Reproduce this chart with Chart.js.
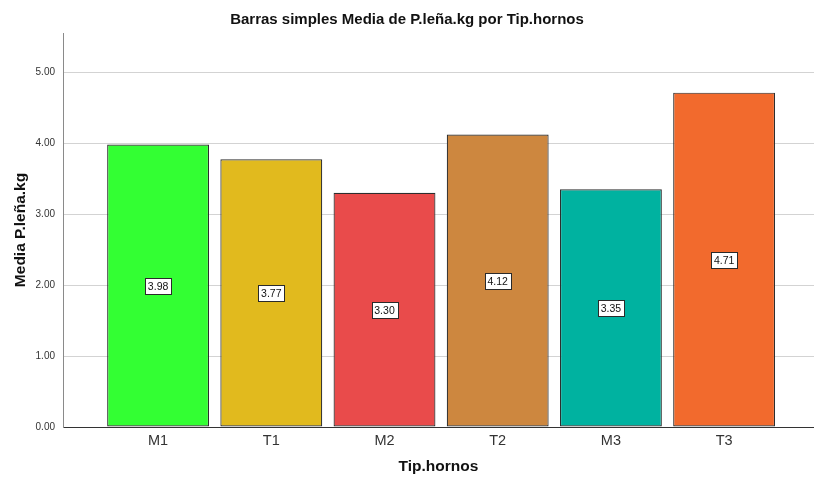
<!DOCTYPE html>
<html>
<head>
<meta charset="utf-8">
<script src="https://cdn.jsdelivr.net/npm/chart.js@4.4.1/dist/chart.umd.min.js"></script>
<style>
  html, body { margin: 0; padding: 0; background: #ffffff; }
  #wrap { width: 814px; height: 481px; }
</style>
</head>
<body>
<div id="wrap"><canvas id="c" width="814" height="481"></canvas></div>
<script>
// Tipos de horno y media de leña (kg) por tipo
const categories = ['M1', 'T1', 'M2', 'T2', 'M3', 'T3'];
const meanValues = [3.98, 3.77, 3.30, 4.12, 3.35, 4.71];
const barColors = ['#33FF33', '#E1BA1E', '#E94B4B', '#CD873F', '#00B2A0', '#F26A2D'];
const yTickValues = [0, 1, 2, 3, 4, 5];

const FONT = "'Liberation Sans', Arial, Helvetica, sans-serif";

// Etiqueta de valor en un recuadro blanco a media altura de cada barra
const valueBoxes = {
  id: 'valueBoxes',
  afterDatasetsDraw(chart) {
    const ctx = chart.ctx;
    const meta = chart.getDatasetMeta(0);
    const yScale = chart.scales.y;
    ctx.save();
    ctx.font = '10.5px ' + FONT;
    ctx.textAlign = 'center';
    ctx.textBaseline = 'middle';
    meta.data.forEach((bar, i) => {
      const v = meanValues[i];
      const text = v.toFixed(2);
      const cx = bar.x;
      const cy = yScale.getPixelForValue(v / 2);
      const w = Math.ceil(ctx.measureText(text).width) + 5;
      const h = 16;
      const x0 = Math.round(cx - w / 2) + 0.5;
      const y0 = Math.round(cy - h / 2) + 0.5;
      ctx.fillStyle = '#ffffff';
      ctx.fillRect(x0, y0, w, h);
      ctx.strokeStyle = '#2a2a2a';
      ctx.lineWidth = 1;
      ctx.strokeRect(x0, y0, w, h);
      ctx.fillStyle = '#111111';
      ctx.fillText(text, cx, cy + 1);
    });
    ctx.restore();
  }
};

const whiteBg = {
  id: 'whiteBg',
  beforeDraw(chart) {
    const ctx = chart.ctx;
    ctx.save();
    ctx.fillStyle = '#ffffff';
    ctx.fillRect(0, 0, chart.width, chart.height);
    ctx.restore();
  }
};

new Chart(document.getElementById('c'), {
  type: 'bar',
  data: {
    datasets: [{
      data: categories.map((c, i) => ({ x: i, y: meanValues[i] })),
      backgroundColor: barColors,
      borderColor: '#2e2e2e',
      borderWidth: 1.2,
      borderSkipped: false,
      barPercentage: 0.9,
      categoryPercentage: 1.0
    }]
  },
  options: {
    responsive: false,
    animation: false,
    devicePixelRatio: 1,
    layout: { padding: { left: 0, right: 0, top: 0, bottom: 0 } },
    plugins: {
      legend: { display: false },
      tooltip: { enabled: false },
      title: {
        display: true,
        text: 'Barras simples Media de P.leña.kg por Tip.hornos',
        color: '#111111',
        font: { family: FONT, size: 15, weight: 'bold', lineHeight: 1.2 },
        padding: { top: 11, bottom: 4 }
      }
    },
    scales: {
      x: {
        type: 'linear',
        min: -0.84,
        max: 5.794,
        offset: false,
        grid: { display: false, drawTicks: false },
        border: { display: true, color: '#333333', width: 1 },
        ticks: {
          stepSize: 1,
          includeBounds: false,
          autoSkip: false,
          maxRotation: 0,
          padding: 5,
          color: '#333333',
          font: { family: FONT, size: 14.5 },
          callback: (value) => (Number.isInteger(value) && categories[value] !== undefined) ? categories[value] : ''
        },
        title: {
          display: true,
          text: 'Tip.hornos',
          color: '#111111',
          font: { family: FONT, size: 15.5, weight: 'bold', lineHeight: 1.2 },
          padding: { top: 4, bottom: 5 }
        },
        afterFit(scale) { scale.height = 54; }
      },
      y: {
        min: 0,
        max: 5.55,
        grid: { color: '#d3d3d3', lineWidth: 1, drawTicks: false },
        border: { display: true, color: '#8a8a8a', width: 1 },
        afterBuildTicks(scale) { scale.ticks = yTickValues.map(v => ({ value: v })); },
        ticks: {
          stepSize: 1,
          includeBounds: false,
          padding: 8,
          color: '#333333',
          font: { family: FONT, size: 10 },
          callback: (value) => Number(value).toFixed(2)
        },
        title: {
          display: true,
          text: 'Media P.leña.kg',
          color: '#111111',
          font: { family: FONT, size: 15.5, weight: 'bold', lineHeight: 1.2 },
          padding: { top: 11, bottom: 0 }
        },
        afterFit(scale) { scale.width = 63; }
      }
    }
  },
  plugins: [whiteBg, valueBoxes]
});
</script>
</body>
</html>
